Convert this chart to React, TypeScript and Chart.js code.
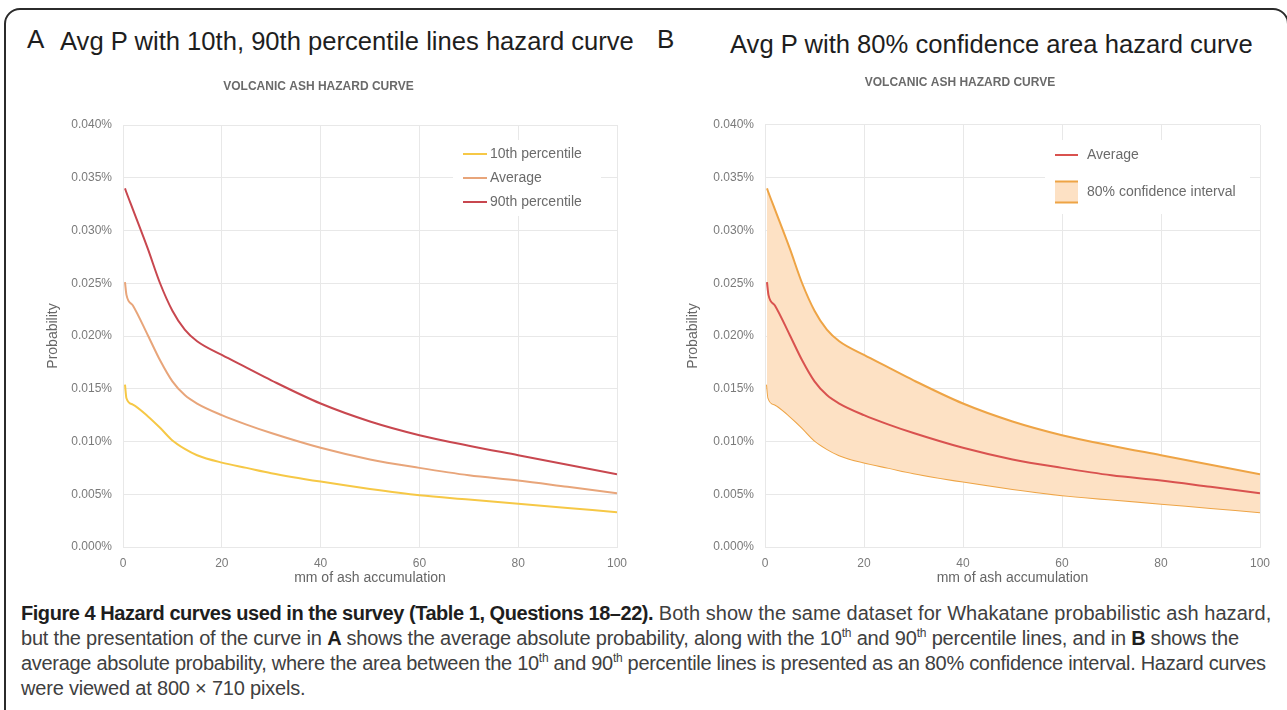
import React, { useEffect, useRef } from "react";
import { Chart, registerables } from "chart.js";

Chart.register(...registerables);

// ---- Data (probability in %) ----
const xValues = [0.4, 0.7, 2, 5, 7.5, 10, 12.5, 15, 20, 25, 30, 40, 50, 60, 70, 80, 90, 100];
const p90Values = [0.034, 0.0336, 0.032, 0.0283, 0.025, 0.0224, 0.0206, 0.0195, 0.0182, 0.017, 0.0158, 0.0136, 0.0119, 0.0106, 0.0096, 0.0087, 0.0078, 0.0069];
const avgValues = [0.0251, 0.0239, 0.0229, 0.0201, 0.0177, 0.0157, 0.0144, 0.0136, 0.0125, 0.0116, 0.0108, 0.0094, 0.0083, 0.0075, 0.0068, 0.0063, 0.0057, 0.0051];
const p10Values = [0.0154, 0.0141, 0.0135, 0.0124, 0.0113, 0.0101, 0.0093, 0.0087, 0.008, 0.0075, 0.007, 0.0062, 0.0055, 0.0049, 0.0045, 0.0041, 0.0037, 0.0033];

const xMin = 0;
const xMax = 100;
const xStep = 20;
const yMin = 0;
const yMax = 0.04;
const yStep = 0.005;

const chartTitle = "VOLCANIC ASH HAZARD CURVE";
const xTitle = "mm of ash accumulation";
const yTitle = "Probability";

const FONT = '"Liberation Sans", Arial, Helvetica, sans-serif';
const GRID = "#e8e8e8";
const TICK = "#7a7a7a";
const AXIS_TITLE = "#666666";

const YELLOW = "#f6c846";
const ORANGE = "#e8a57a";
const RED = "#c8474f";
const BAND = "#eea445";
const BAND_FILL = "#fde1c4";
const RED_B = "#d9524f";

const toPoints = (ys: number[]) => xValues.map((x, i) => ({ x, y: ys[i] }));

const insideLegend = {
  id: "insideLegend",
  afterDraw(chart: any, _args: any, opts: any) {
    if (!opts || !opts.items) return;
    const ctx = chart.ctx;
    ctx.save();
    if (opts.box) {
      ctx.fillStyle = "#ffffff";
      ctx.fillRect(opts.box.x, opts.box.y, opts.box.w, opts.box.h);
    }
    ctx.font = `14px ${FONT}`;
    ctx.textBaseline = "middle";
    ctx.textAlign = "left";
    for (const it of opts.items) {
      const ds = chart.data.datasets[it.datasetIndex];
      if (it.kind === "line") {
        ctx.strokeStyle = ds.borderColor;
        ctx.lineWidth = 2;
        ctx.beginPath();
        ctx.moveTo(it.x, it.y);
        ctx.lineTo(it.x + it.w, it.y);
        ctx.stroke();
      } else {
        ctx.fillStyle = ds.backgroundColor;
        ctx.fillRect(it.x, it.y - it.h / 2, it.w, it.h);
        ctx.strokeStyle = ds.borderColor;
        ctx.lineWidth = 2;
        ctx.beginPath();
        ctx.moveTo(it.x, it.y - it.h / 2);
        ctx.lineTo(it.x + it.w, it.y - it.h / 2);
        ctx.moveTo(it.x, it.y + it.h / 2);
        ctx.lineTo(it.x + it.w, it.y + it.h / 2);
        ctx.stroke();
      }
      ctx.fillStyle = "#6b6b6b";
      ctx.fillText(ds.label, it.x + it.w + it.gap, it.y);
    }
    ctx.restore();
  },
};

function makeOptions(titlePadTop: number, titlePadBottom: number, yWidth: number, padRight: number, legend: any) {
  return {
    responsive: false,
    animation: false,
    layout: { padding: { top: 0, left: 0, right: padRight, bottom: 0 } },
    plugins: {
      legend: { display: false },
      tooltip: { enabled: false },
      title: {
        display: true,
        text: chartTitle,
        color: "#6a6a6a",
        font: { family: FONT, size: 12, weight: "bold" },
        padding: { top: titlePadTop, bottom: titlePadBottom },
      },
      insideLegend: legend,
    },
    scales: {
      x: {
        type: "linear",
        min: xMin,
        max: xMax,
        ticks: { stepSize: xStep, color: TICK, font: { family: FONT, size: 12 }, padding: 9 },
        grid: { color: GRID, drawTicks: false },
        border: { color: GRID },
        title: {
          display: true,
          text: xTitle,
          color: AXIS_TITLE,
          font: { family: FONT, size: 14 },
          padding: { top: 0, bottom: 2 },
        },
        afterFit: (s: any) => {
          s.height = 42;
        },
      },
      y: {
        type: "linear",
        min: yMin,
        max: yMax,
        ticks: {
          stepSize: yStep,
          color: TICK,
          font: { family: FONT, size: 12 },
          padding: 11,
          callback: (v: any) => Number(v).toFixed(3) + "%",
        },
        grid: { color: GRID, drawTicks: false },
        border: { color: GRID },
        title: {
          display: true,
          text: yTitle,
          color: AXIS_TITLE,
          font: { family: FONT, size: 14 },
          padding: { top: 25, bottom: 0 },
        },
        afterFit: (s: any) => {
          s.width = yWidth;
        },
      },
    },
  };
}

function lineDs(label: string, values: number[], color: string, extra: any = {}) {
  return {
    label,
    data: toPoints(values),
    borderColor: color,
    backgroundColor: color,
    borderWidth: 2,
    pointRadius: 0,
    cubicInterpolationMode: "monotone",
    fill: false,
    ...extra,
  };
}

function ChartA() {
  const ref = useRef<HTMLCanvasElement>(null);
  useEffect(() => {
    const chart = new Chart(ref.current as HTMLCanvasElement, {
      type: "line",
      data: {
        datasets: [
          lineDs("10th percentile", p10Values, YELLOW),
          lineDs("Average", avgValues, ORANGE),
          lineDs("90th percentile", p90Values, RED),
        ],
      },
      options: makeOptions(17.8, 30.8, 103, 23, {
        box: { x: 433, y: 78, w: 148, h: 76 },
        items: [
          { datasetIndex: 0, kind: "line", x: 443, y: 92, w: 24, gap: 3 },
          { datasetIndex: 1, kind: "line", x: 443, y: 116, w: 24, gap: 3 },
          { datasetIndex: 2, kind: "line", x: 443, y: 140, w: 24, gap: 3 },
        ],
      }),
      plugins: [insideLegend],
    } as any);
    return () => chart.destroy();
  }, []);
  return (
    <canvas
      ref={ref}
      width={620}
      height={527}
      style={{ position: "absolute", left: 20, top: 62, width: 620, height: 527 }}
    />
  );
}

function ChartB() {
  const ref = useRef<HTMLCanvasElement>(null);
  useEffect(() => {
    const chart = new Chart(ref.current as HTMLCanvasElement, {
      type: "line",
      data: {
        datasets: [
          lineDs("Average", avgValues, RED_B),
          lineDs("80% confidence interval", p90Values, BAND, { backgroundColor: BAND_FILL, fill: "+1" }),
          lineDs("10th percentile", p10Values, BAND, { backgroundColor: BAND_FILL }),
        ],
      },
      options: makeOptions(13.8, 34.8, 105, 20, {
        box: { x: 385, y: 78, w: 205, h: 74 },
        items: [
          { datasetIndex: 0, kind: "line", x: 395, y: 93, w: 23, gap: 9 },
          { datasetIndex: 1, kind: "box", x: 395, y: 130, w: 23, h: 21, gap: 9 },
        ],
      }),
      plugins: [insideLegend],
    } as any);
    return () => chart.destroy();
  }, []);
  return (
    <canvas
      ref={ref}
      width={620}
      height={527}
      style={{ position: "absolute", left: 660, top: 62, width: 620, height: 527 }}
    />
  );
}

const capFont = '"Liberation Sans", Arial, sans-serif';
const sup = (t: string) => (
  <sup style={{ fontSize: 12, verticalAlign: "super", lineHeight: 0 }}>{t}</sup>
);

export default function App() {
  const lineStyle = (top: number, ls: number): React.CSSProperties => ({
    position: "absolute",
    left: 21,
    top,
    whiteSpace: "nowrap",
    fontFamily: capFont,
    fontSize: 20,
    letterSpacing: `${ls}px`,
    lineHeight: "25px",
    color: "#404040",
  });
  const bold: React.CSSProperties = { color: "#1e1e1e", letterSpacing: "-0.45px" };
  return (
    <div
      style={{
        position: "fixed",
        left: 0,
        top: 0,
        width: 1287,
        height: 710,
        background: "#ffffff",
        overflow: "hidden",
      }}
    >
      <div
        style={{
          position: "absolute",
          left: 4,
          top: 8,
          width: 1285,
          height: 800,
          border: "2px solid #2b2b2b",
          borderRadius: 16,
          boxSizing: "border-box",
        }}
      />
      <div style={{ position: "absolute", left: 27, top: 25.5, fontFamily: FONT, fontSize: 26, lineHeight: 1, color: "#1e1e1e" }}>A</div>
      <div style={{ position: "absolute", left: 60, top: 28.5, fontFamily: FONT, fontSize: 25.6, lineHeight: 1, color: "#1e1e1e", whiteSpace: "nowrap" }}>
        Avg P with 10th, 90th percentile lines hazard curve
      </div>
      <div style={{ position: "absolute", left: 657, top: 25.5, fontFamily: FONT, fontSize: 26, lineHeight: 1, color: "#1e1e1e" }}>B</div>
      <div style={{ position: "absolute", left: 730, top: 31.5, fontFamily: FONT, fontSize: 25.6, lineHeight: 1, color: "#1e1e1e", whiteSpace: "nowrap" }}>
        Avg P with 80% confidence area hazard curve
      </div>
      <ChartA />
      <ChartB />
      <div style={lineStyle(601, 0.05)}>
        <b style={bold}>Figure 4 Hazard curves used in the survey (Table 1, Questions 18–22).</b> Both show the same dataset for Whakatane probabilistic ash hazard,
      </div>
      <div style={lineStyle(626, -0.2)}>
        but the presentation of the curve in <b style={bold}>A</b> shows the average absolute probability, along with the 10{sup("th")} and 90{sup("th")} percentile lines, and in <b style={bold}>B</b> shows the
      </div>
      <div style={lineStyle(651, -0.3)}>
        average absolute probability, where the area between the 10{sup("th")} and 90{sup("th")} percentile lines is presented as an 80% confidence interval. Hazard curves
      </div>
      <div style={lineStyle(676, -0.2)}>were viewed at 800 × 710 pixels.</div>
    </div>
  );
}
